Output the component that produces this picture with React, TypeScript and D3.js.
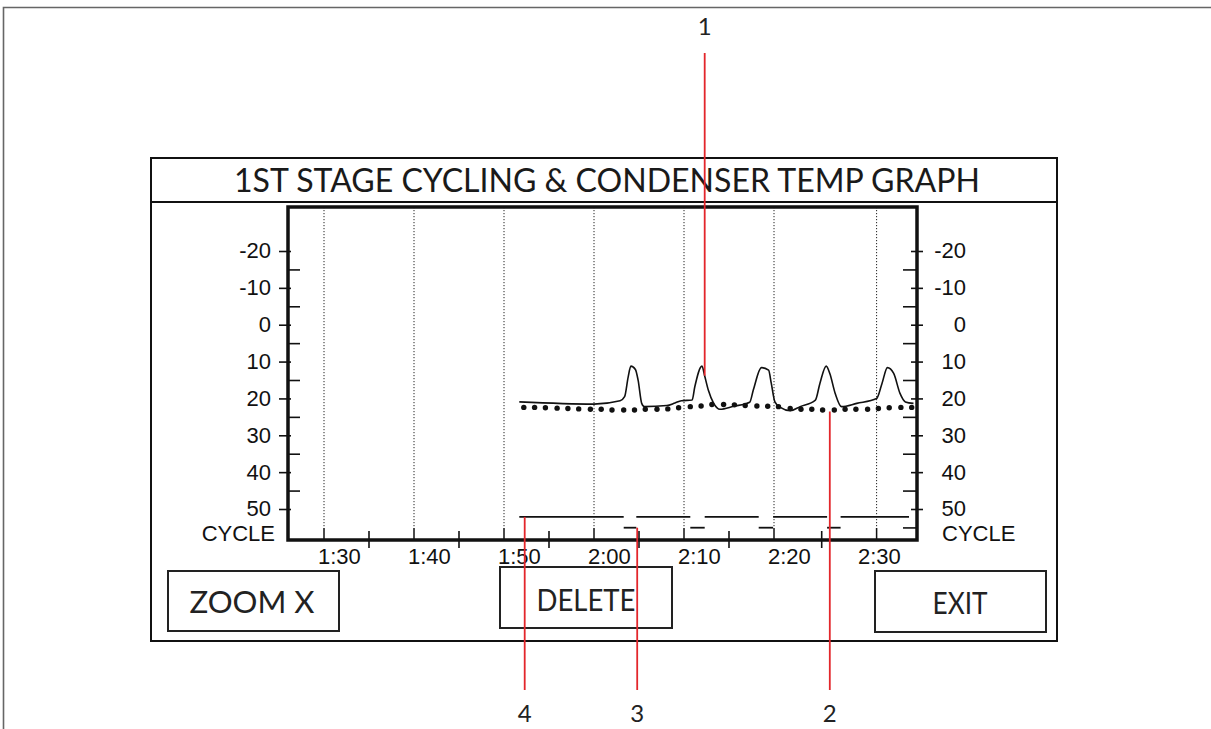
import React from "react";
import * as d3 from "d3";

// ---------- data ----------
const yTickValues = [-20, -10, 0, 10, 20, 30, 40, 50];
const yMinorTicksLeft = [-15, -5, 5, 15, 25, 35, 45];
const yMinorTicksRight = [-15, -5, 5, 15, 25, 35, 45, 55];
const xLabelTimes = [90, 100, 110, 120, 130, 140, 150];
const xLabels = ["1:30", "1:40", "1:50", "2:00", "2:10", "2:20", "2:30"];
const gridTimes = [90, 100, 110, 120, 130, 140, 151.4];
const xMidTicks = [95, 105, 115, 125, 135, 145.3];

// 1st stage temperature (solid line)
const stageTimes = [
  111.7, 120.0, 122.9, 123.4, 123.8, 124.1, 124.6, 124.9, 125.3, 125.6, 128.1, 129.0,
  129.7, 130.9, 131.2, 132.0, 132.3, 132.7, 133.3, 134.0, 135.5, 137.3, 137.7, 138.6,
  139.4, 139.7, 140.1, 140.7, 141.8, 142.9, 144.6, 145.1, 145.8, 146.2, 146.8, 147.5,
  149.2, 151.4, 152.0, 152.6, 153.3, 154.0, 154.6, 155.5,
];
const stageTemps = [
  20.8, 21.4, 20.5, 19.4, 14.0, 11.1, 12.0, 14.9, 21.2, 22.1, 21.8, 21.1,
  20.5, 20.3, 16.7, 11.1, 13.8, 17.6, 21.2, 22.8, 22.0, 20.9, 17.6, 11.5,
  12.2, 15.8, 20.8, 22.3, 23.2, 22.1, 20.3, 15.8, 11.1, 13.1, 18.5, 22.1,
  21.2, 19.9, 15.8, 11.5, 13.1, 18.5, 20.8, 21.2,
];

// condenser temperature (dotted)
const condTimes = [
  112.2, 113.4, 114.6, 115.9, 117.1, 118.3, 119.6, 120.8, 122.0, 123.3, 124.5, 125.7,
  127.0, 128.2, 129.4, 130.7, 131.9, 133.1, 134.4, 135.6, 136.8, 138.1, 139.3, 140.5,
  141.8, 143.0, 144.2, 145.4, 146.7, 147.9, 149.1, 150.4, 151.6, 152.8, 154.1, 155.3,
];
const condTemps = [
  22.3, 22.3, 22.4, 22.5, 22.6, 22.7, 22.8, 22.8, 23.0, 23.0, 23.0, 22.8,
  22.8, 22.7, 22.4, 22.1, 21.9, 21.5, 21.5, 21.6, 21.8, 21.9, 22.0, 22.1,
  22.6, 22.8, 22.8, 23.0, 23.0, 22.8, 22.8, 22.8, 22.6, 22.4, 22.3, 22.3,
];

// compressor cycle (segment i runs from cycleTimes[i] to cycleTimes[i+1])
const cycleTimes = [111.7, 123.3, 124.7, 130.7, 132.3, 138.3, 139.9, 145.9, 147.4, 155.0];
const cycleStates = [1, 0, 1, 0, 1, 0, 1, 0, 1];

// callouts
const calloutLabels = ["1", "2", "3", "4"];
const calloutTimes = [132.3, 146.2, 124.8, 112.3];

const FUT = "'Lato', 'Open Sans', 'DejaVu Sans', sans-serif";
const ARL = "'Liberation Sans', Arial, sans-serif";

export default function App() {
  const W = 1211;
  const H = 729;
  const plot = { left: 288, right: 917, top: 207, bottom: 540 };

  const x = d3.scaleLinear().domain([90, 150]).range([324, 864]);
  const y = d3.scaleLinear().domain([-20, 50]).range([251.5, 509.5]);
  const yc = d3.scaleLinear().domain([0, 1]).range([527.7, 516.9]);

  const line = d3
    .line<number>()
    .x((_, i) => x(stageTimes[i]))
    .y((d) => y(d))
    .curve(d3.curveMonotoneX);

  const red = "#e3262b";
  const ink = "#111";
  const AX = 22;

  const calloutTips = [
    { y1: 53, y2: y(13.7) },
    { y1: y(23.4), y2: 690 },
    { y1: yc(0), y2: 690 },
    { y1: yc(1), y2: 690 },
  ];

  return (
    <svg
      width={W}
      height={H}
      viewBox={`0 0 ${W} ${H}`}
      style={{ position: "absolute", left: 0, top: 0, background: "#fff" }}
    >
      {/* outer frame */}
      <path d={`M3.5,${H} V7.5 H${W}`} fill="none" stroke="#666" strokeWidth={1.6} />

      {/* panel */}
      <rect x={151} y={158} width={906} height={483} fill="none" stroke={ink} strokeWidth={2} />
      <line x1={151} x2={1057} y1={202} y2={202} stroke={ink} strokeWidth={2} />
      <text
        x={607}
        y={192}
        textAnchor="middle"
        fontFamily={FUT}
        fontWeight={400}
        fontSize={33}
        fill="#1a1a1a"
        textLength={746}
        lengthAdjust="spacingAndGlyphs"
      >
        1ST STAGE CYCLING &amp; CONDENSER TEMP GRAPH
      </text>

      {/* gridlines */}
      {gridTimes.map((t, i) => (
        <g key={"g" + i}>
          <line
            x1={x(t)}
            x2={x(t)}
            y1={plot.top}
            y2={plot.bottom - 12}
            stroke="#222"
            strokeWidth={1}
            strokeDasharray="1.2,1.8"
          />
          <line x1={x(t)} x2={x(t)} y1={plot.bottom - 12} y2={plot.bottom} stroke={ink} strokeWidth={1.5} />
        </g>
      ))}

      {/* x mid ticks crossing axis */}
      {xMidTicks.map((t, i) => (
        <line key={"xm" + i} x1={x(t)} x2={x(t)} y1={plot.bottom - 9} y2={plot.bottom + 8} stroke={ink} strokeWidth={1.6} />
      ))}

      {/* y ticks left */}
      {yTickValues.map((v) => (
        <line key={"yl" + v} x1={plot.left - 9} x2={plot.left + 3} y1={y(v)} y2={y(v)} stroke={ink} strokeWidth={1.6} />
      ))}
      {yMinorTicksLeft.map((v) => (
        <line key={"ylm" + v} x1={plot.left} x2={plot.left + 12} y1={y(v)} y2={y(v)} stroke={ink} strokeWidth={1.6} />
      ))}
      {/* y ticks right */}
      {yTickValues.map((v) => (
        <line key={"yr" + v} x1={plot.right - 6} x2={plot.right + 6} y1={y(v)} y2={y(v)} stroke={ink} strokeWidth={1.6} />
      ))}
      {yMinorTicksRight.map((v) => (
        <line key={"yrm" + v} x1={plot.right - 14} x2={plot.right} y1={y(v)} y2={y(v)} stroke={ink} strokeWidth={1.6} />
      ))}

      {/* plot frame */}
      <rect
        x={plot.left}
        y={plot.top}
        width={plot.right - plot.left}
        height={plot.bottom - plot.top}
        fill="none"
        stroke={ink}
        strokeWidth={3.5}
      />

      {/* y labels */}
      {yTickValues.map((v) => (
        <text key={"lt" + v} x={271} y={y(v) - 1} dy="0.36em" textAnchor="end" fontFamily={ARL} fontSize={AX} fill={ink}>
          {v}
        </text>
      ))}
      {yTickValues.map((v) => (
        <text key={"rt" + v} x={966} y={y(v) - 1} dy="0.36em" textAnchor="end" fontFamily={ARL} fontSize={AX} fill={ink}>
          {v}
        </text>
      ))}
      <text x={275} y={533.5} dy="0.36em" textAnchor="end" fontFamily={ARL} fontSize={AX} fill={ink}>
        CYCLE
      </text>
      <text x={942} y={533.5} dy="0.36em" textAnchor="start" fontFamily={ARL} fontSize={AX} fill={ink}>
        CYCLE
      </text>

      {/* x labels */}
      {xLabelTimes.map((t, i) => (
        <text key={"xl" + i} x={x(t) - 6} y={564} textAnchor="start" fontFamily={ARL} fontSize={AX} fill={ink}>
          {xLabels[i]}
        </text>
      ))}

      {/* series */}
      <path d={line(stageTemps) || ""} fill="none" stroke={ink} strokeWidth={1.6} />
      {condTemps.map((v, i) => (
        <circle key={"c" + i} cx={x(condTimes[i])} cy={y(v)} r={2.7} fill={ink} />
      ))}
      {cycleStates.map((s, i) => (
        <line
          key={"cy" + i}
          x1={x(cycleTimes[i])}
          x2={x(cycleTimes[i + 1])}
          y1={yc(s)}
          y2={yc(s)}
          stroke={ink}
          strokeWidth={1.8}
        />
      ))}

      {/* buttons */}
      <rect x={168} y={571} width={171} height={60} fill="none" stroke="#222" strokeWidth={2} />
      <text x={252} y={613} textAnchor="middle" fontFamily={FUT} fontWeight={400} fontSize={31} fill="#222" textLength={125} lengthAdjust="spacingAndGlyphs">
        ZOOM X
      </text>
      <rect x={500} y={567} width={172} height={61} fill="none" stroke="#222" strokeWidth={2} />
      <text x={586} y={611} textAnchor="middle" fontFamily={FUT} fontWeight={400} fontSize={31} fill="#222" textLength={99} lengthAdjust="spacingAndGlyphs">
        DELETE
      </text>
      <rect x={875} y={571} width={171} height={61} fill="none" stroke="#222" strokeWidth={2} />
      <text x={960} y={614} textAnchor="middle" fontFamily={FUT} fontWeight={400} fontSize={31} fill="#222" textLength={55} lengthAdjust="spacingAndGlyphs">
        EXIT
      </text>

      {/* callouts */}
      {calloutLabels.map((lab, i) => {
        const cx = x(calloutTimes[i]);
        const tip = calloutTips[i];
        const ly = i === 0 ? 35 : 722;
        return (
          <g key={"co" + i}>
            <line x1={cx} x2={cx} y1={tip.y1} y2={tip.y2} stroke={red} strokeWidth={1.8} />
            <text x={cx} y={ly} textAnchor="middle" fontFamily={FUT} fontSize={24} fill="#222">
              {lab}
            </text>
          </g>
        );
      })}
    </svg>
  );
}
